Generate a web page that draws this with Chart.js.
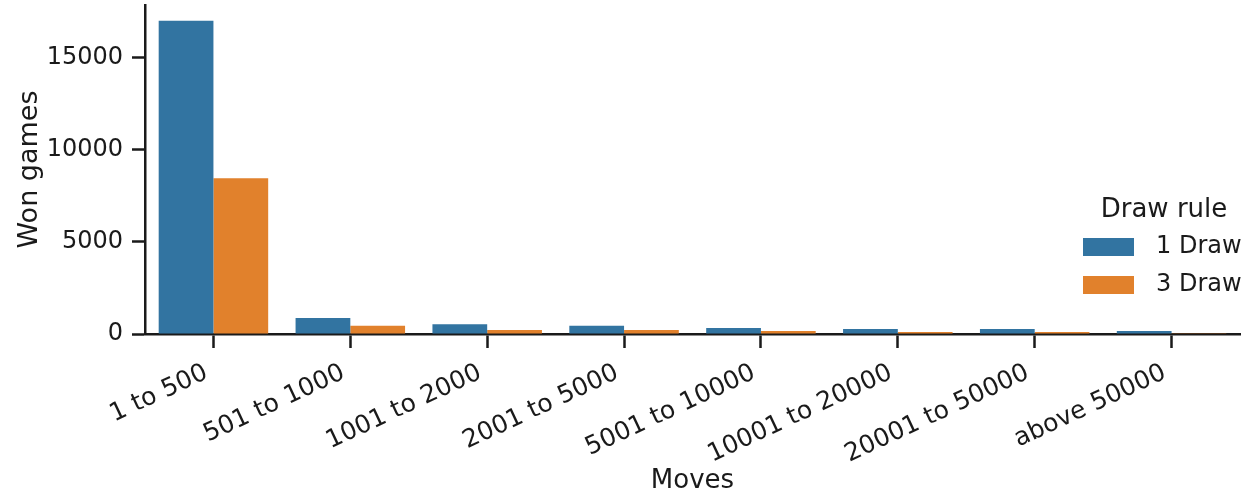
<!DOCTYPE html>
<html lang="en">
<head>
    <meta charset="UTF-8">
    <title>Won games by moves</title>
    <script src="https://cdn.jsdelivr.net/npm/chart.js"></script>
    <style>
        body { margin: 0; background: #fff; }
        .chart-container { width: 1258px; height: 497px; position: relative; }
    </style>
</head>
<body>
    <div class="chart-container">
        <canvas id="movesChart"></canvas>
    </div>

    <script>
        // Categorias e valores
        const moveBins = ['1 to 500', '501 to 1000', '1001 to 2000', '2001 to 5000',
            '5001 to 10000', '10001 to 20000', '20001 to 50000', 'above 50000'];
        const oneDraw = [17000, 870, 525, 450, 325, 270, 270, 160];
        const threeDraw = [8450, 450, 215, 215, 160, 110, 110, 20];
        const yTicks = [0, 5000, 10000, 15000];

        const textColor = '#1a1a1a';
        const fontFamily = "'DejaVu Sans', sans-serif";

        // Legenda desenhada dentro da área do gráfico (como no seaborn)
        const insideLegend = {
            id: 'insideLegend',
            afterDraw(chart) {
                const ctx = chart.ctx;
                ctx.save();
                ctx.fillStyle = textColor;
                ctx.font = '26px ' + fontFamily;
                ctx.textAlign = 'center';
                ctx.textBaseline = 'middle';
                ctx.fillText('Draw rule', 1164, 210);
                chart.data.datasets.forEach((ds, i) => {
                    const y = 247 + i * 38;
                    ctx.fillStyle = ds.backgroundColor;
                    ctx.fillRect(1083, y - 9, 51, 18);
                    ctx.fillStyle = textColor;
                    ctx.font = '24px ' + fontFamily;
                    ctx.textAlign = 'left';
                    ctx.fillText(ds.label, 1156, y);
                });
                ctx.restore();
            }
        };

        const ctx = document.getElementById('movesChart').getContext('2d');
        new Chart(ctx, {
            type: 'bar',
            data: {
                labels: moveBins,
                datasets: [
                    { label: '1 Draw', data: oneDraw, backgroundColor: '#3274a1' },
                    { label: '3 Draw', data: threeDraw, backgroundColor: '#e1812c' }
                ]
            },
            options: {
                responsive: true,
                maintainAspectRatio: false,
                animation: false,
                layout: { padding: { top: 5, right: 18, left: 0, bottom: 0 } },
                datasets: { bar: { categoryPercentage: 0.8, barPercentage: 1.0 } },
                plugins: {
                    legend: { display: false },
                    tooltip: { enabled: false }
                },
                scales: {
                    x: {
                        grid: { drawOnChartArea: false, offset: false, tickLength: 14, tickWidth: 2.5, color: textColor },
                        border: { color: textColor, width: 2.5 },
                        ticks: { color: textColor, font: { family: fontFamily, size: 25 }, minRotation: 25, maxRotation: 25, padding: 10, labelOffset: -7 },
                        title: { display: true, text: 'Moves', color: textColor, font: { family: fontFamily, size: 26 }, padding: { top: 0, bottom: 0 } },
                        afterFit(scale) { scale.height = 163; scale.paddingLeft = 0; scale.paddingRight = 0; }
                    },
                    y: {
                        min: 0,
                        max: 17850,
                        grid: { drawOnChartArea: false, tickLength: 13, tickWidth: 2.5, color: textColor },
                        border: { color: textColor, width: 2.5 },
                        afterBuildTicks(scale) { scale.ticks = yTicks.map(v => ({ value: v })); },
                        ticks: { color: textColor, font: { family: fontFamily, size: 24 }, padding: 9, callback: v => String(v) },
                        title: { display: true, text: 'Won games', color: textColor, font: { family: fontFamily, size: 27 }, padding: { top: 14, bottom: 0 } },
                        afterFit(scale) { scale.width = 145; scale.paddingTop = 0; scale.paddingBottom = 0; }
                    }
                }
            },
            plugins: [insideLegend]
        });
    </script>
</body>
</html>
